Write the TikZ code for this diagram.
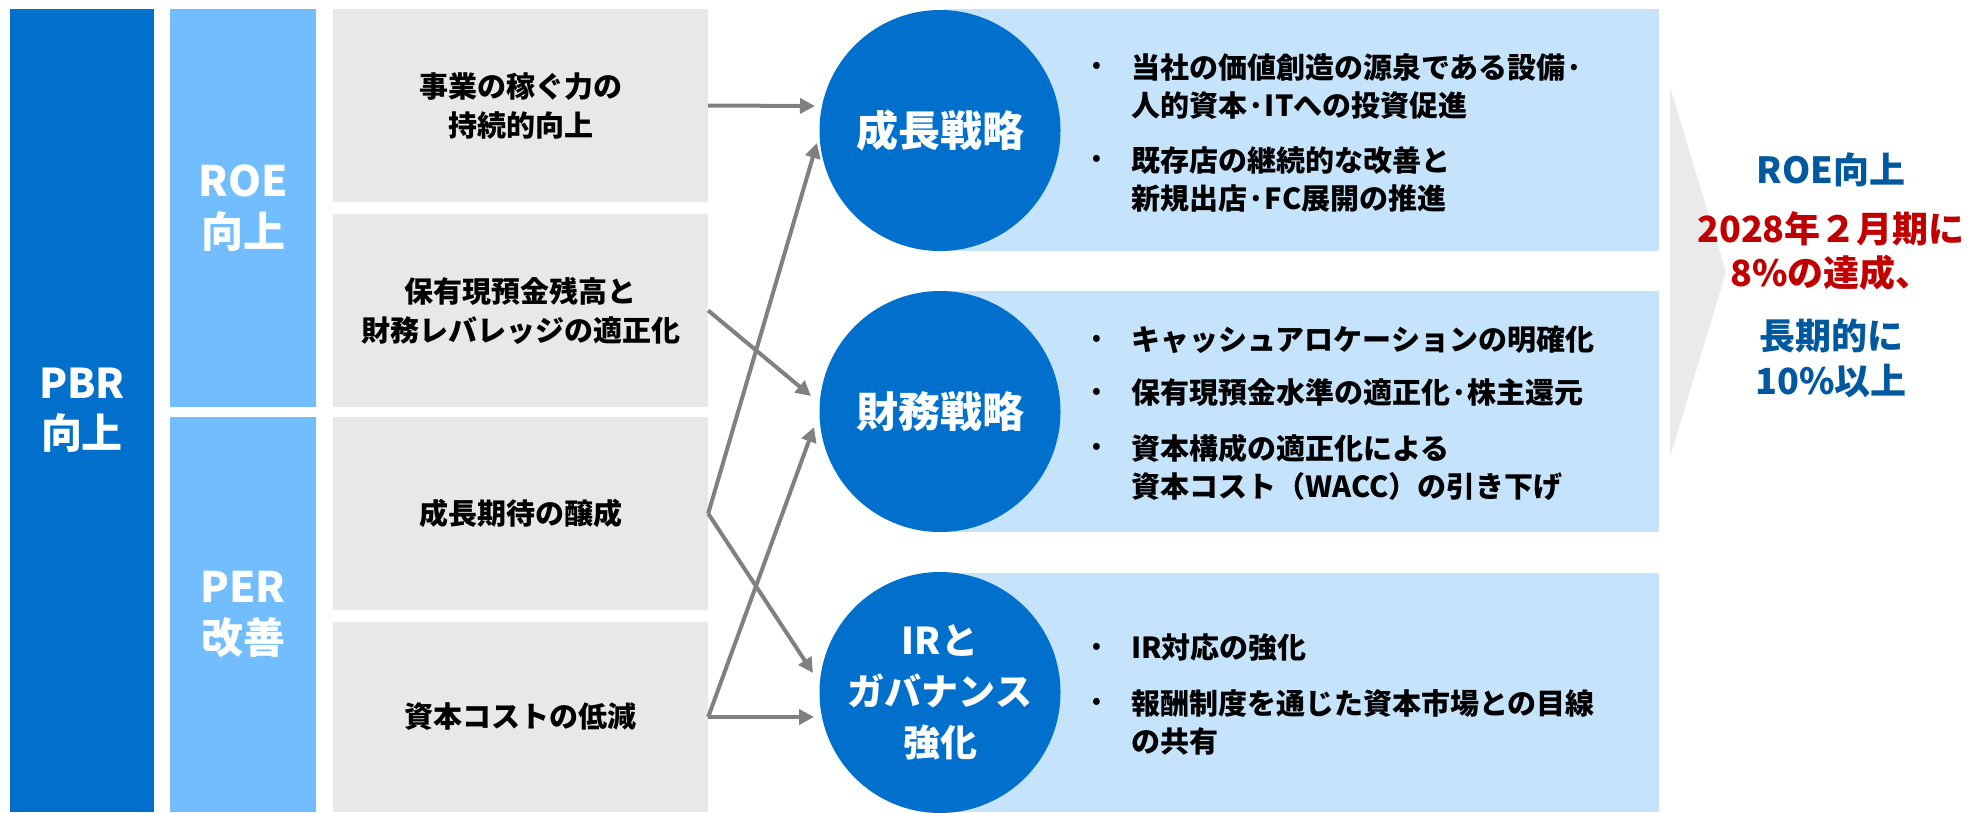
\documentclass[tikz,border=0pt]{standalone}
\usepackage{fontspec}
\setmainfont{Noto Sans CJK JP}
\usetikzlibrary{arrows.meta}
\definecolor{pbrblue}{HTML}{0070CC}
\definecolor{roeblue}{HTML}{71BDFD}
\definecolor{boxgray}{HTML}{E8E8E8}
\definecolor{paleblue}{HTML}{C5E4FC}
\definecolor{arrowgray}{HTML}{808080}
\definecolor{goalblue}{HTML}{00589E}
\definecolor{goalred}{HTML}{C00000}
\definecolor{chevgray}{HTML}{EAEAEA}
\begin{document}
\begin{tikzpicture}[x=1pt,y=-1pt,font=\bfseries,
  tall/.style={rectangle, fill=pbrblue, text=white, inner sep=0, align=center, font=\bfseries\fontsize{41}{50}\selectfont},
  sub/.style={rectangle, fill=roeblue, text=white, inner sep=0, align=center, font=\bfseries\fontsize{42}{51}\selectfont, minimum width=146},
  gbox/.style={rectangle, fill=boxgray, text=black, inner sep=0, align=center, font=\bfseries\fontsize{29}{39}\selectfont, minimum width=375},
  pane/.style={rectangle, fill=paleblue, inner sep=0, minimum width=715, anchor=north west},
  disc/.style={circle, fill=pbrblue, text=white, inner sep=0, align=center, minimum size=241},
  item/.style={anchor=west, inner sep=0, align=left, text=black, font=\bfseries\fontsize{29}{38}\selectfont},
  dot/.style={inner sep=0, text=black, font=\bfseries\fontsize{22}{22}\selectfont},
  conn/.style={draw=arrowgray, line width=4pt, -{Triangle[length=15pt,width=15pt]}},
  goal/.style={inner sep=0, align=center, font=\bfseries\fontsize{36}{45}\selectfont}]
\useasboundingbox (0,0) rectangle (1974,812);
% left columns
\node[tall, minimum width=144, minimum height=803] (pbr) at (82,410.5) {PBR\\向上};
\node[sub, minimum height=398] (roe) at (243,208) {ROE\\向上};
\node[sub, minimum height=395] (per) at (243,614.5) {PER\\改善};
% gray boxes
\node[gbox, minimum height=193] (g1) at (520.5,105.5) {事業の稼ぐ力の\\持続的向上};
\node[gbox, minimum height=193] (g2) at (520.5,310.5) {保有現預金残高と\\財務レバレッジの適正化};
\node[gbox, minimum height=193] (g3) at (520.5,513.5) {成長期待の醸成};
\node[gbox, minimum height=190] (g4) at (520.5,717) {資本コストの低減};
% panes
\node[pane, minimum height=242] (p1) at (944,9) {};
\node[pane, minimum height=241] (p2) at (944,291) {};
\node[pane, minimum height=239] (p3) at (944,573) {};
% circles
\node[disc, font=\bfseries\fontsize{42}{50}\selectfont] (c1) at (940,130.5) {成長戦略};
\node[disc, font=\bfseries\fontsize{42}{50}\selectfont] (c2) at (940,411.5) {財務戦略};
\node[disc, font=\bfseries\fontsize{37}{51}\selectfont] (c3) at (940,692.5) {IRと\\ガバナンス\\強化};
% bullets
\node[dot] (d1) at (1097,67) {•};
\node[item] (i1) at (1131,86) {当社の価値創造の源泉である設備·\\人的資本·ITへの投資促進};
\node[dot] (d2) at (1097,160) {•};
\node[item] (i2) at (1131,179) {既存店の継続的な改善と\\新規出店·FC展開の推進};
\node[dot] (d3) at (1097,340) {•};
\node[item] (i3) at (1131,340) {キャッシュアロケーションの明確化};
\node[dot] (d4) at (1097,393) {•};
\node[item] (i4) at (1131,393) {保有現預金水準の適正化·株主還元};
\node[dot] (d5) at (1097,448) {•};
\node[item] (i5) at (1131,467.5) {資本構成の適正化による\\資本コスト（WACC）の引き下げ};
\node[dot] (d6) at (1097,648) {•};
\node[item] (i6) at (1131,648) {IR対応の強化};
\node[dot] (d7) at (1097,703) {•};
\node[item] (i7) at (1131,722.5) {報酬制度を通じた資本市場との目線\\の共有};
% chevron
\fill[chevgray] (1670,87) -- (1726,272) -- (1670,457) -- cycle;
% goal text
\node[goal, text=goalblue] (r1) at (1831,170) {ROE向上};
\node[goal, text=goalred, font=\bfseries\fontsize{36}{44}\selectfont] (r2) at (1831,251) {2028年２月期に\\8\%の達成、};
\node[goal, text=goalblue] (r3) at (1831,358) {長期的に\\10\%以上};
% connectors
\coordinate (t1) at (815,106);
\coordinate (t2) at (811,396);
\coordinate (t3) at (817,143);
\coordinate (t4) at (813,673);
\coordinate (t5) at (814,427);
\coordinate (t6) at (814,717);
\draw[conn] (g1.east) -- (t1);
\draw[conn] (g2.east) -- (t2);
\draw[conn] (g3.east) -- (t3);
\draw[conn] (g3.east) -- (t4);
\draw[conn] (g4.east) -- (t5);
\draw[conn] (g4.east) -- (t6);
\end{tikzpicture}
\end{document}
